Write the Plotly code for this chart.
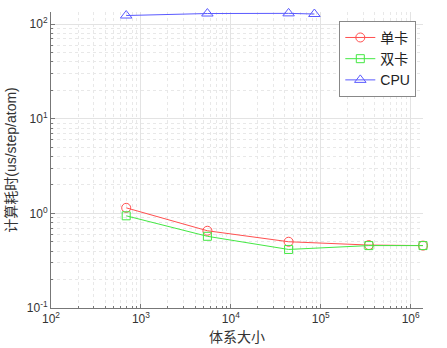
import math
import plotly.graph_objects as go

# data
sizes = [686, 5488, 43904, 343000, 1372000]
single_card = [1.146, 0.656, 0.502, 0.463, 0.457]
dual_card = [0.944, 0.573, 0.416, 0.457, 0.457]
cpu_sizes = [686, 5488, 43904, 85000]
cpu_vals = [123.8, 130.0, 130.5, 128.5]

x_tickvals = [1e2, 1e3, 1e4, 1e5, 1e6]
x_ticktext = ["10<sup>2</sup>", "10<sup>3</sup>", "10<sup>4</sup>", "10<sup>5</sup>", "10<sup>6</sup>"]
y_tickvals = [1e-1, 1e0, 1e1, 1e2]
y_ticktext = ["10<sup>-1</sup>", "10<sup>0</sup>", "10<sup>1</sup>", "10<sup>2</sup>"]

FONT = "Liberation Sans, Arial, Noto Sans CJK SC, sans-serif"

fig = go.Figure()
fig.add_trace(go.Scatter(x=sizes, y=single_card, name="单卡", mode="lines+markers",
                         line=dict(color="#ff5050", width=1),
                         marker=dict(symbol="circle-open", size=9, color="#ff5050", line=dict(width=1)),
                         cliponaxis=False))
fig.add_trace(go.Scatter(x=sizes, y=dual_card, name="双卡", mode="lines+markers",
                         line=dict(color="#44e844", width=1),
                         marker=dict(symbol="square-open", size=8, color="#44e844", line=dict(width=1)),
                         cliponaxis=False))
fig.add_trace(go.Scatter(x=cpu_sizes, y=cpu_vals, name="CPU", mode="lines+markers",
                         line=dict(color="#5a5aff", width=1),
                         marker=dict(symbol="triangle-up-open", size=10, color="#5a5aff", line=dict(width=1)),
                         cliponaxis=False))

axis_common = dict(
    type="log",
    automargin=False,
    showline=True, linecolor="#777777", linewidth=1,
    ticks="inside", ticklen=4, tickcolor="#777777",
    showgrid=True, gridcolor="#e3e3e3", gridwidth=1,
    zeroline=False,
    tickfont=dict(family=FONT, size=12, color="#333333"),
    minor=dict(dtick="D1", ticks="inside", ticklen=2, tickcolor="#777777",
               showgrid=True, gridcolor="#e8e8e8", griddash="dot", gridwidth=1),
)

fig.update_xaxes(**axis_common, tickmode="array", tickvals=x_tickvals, ticktext=x_ticktext,
                 range=[2, math.log10(1372000)],
                 title=dict(text="体系大小", font=dict(family=FONT, size=14, color="#333333"), standoff=6))
fig.update_yaxes(**axis_common, tickmode="array", tickvals=y_tickvals, ticktext=y_ticktext,
                 range=[-1, 2.13],
                 title=dict(text="计算耗时(us/step/atom)", font=dict(family=FONT, size=14, color="#333333"), standoff=6))

fig.update_layout(
    width=447, height=348,
    margin=dict(l=51, r=24, t=12, b=40),
    paper_bgcolor="white", plot_bgcolor="white",
    font=dict(family=FONT, size=14, color="#222222"),
    showlegend=True,
    legend=dict(x=0.775, y=0.97, xanchor="left", yanchor="top",
                bgcolor="white", bordercolor="#888888", borderwidth=1,
                font=dict(family=FONT, size=14, color="#222222"),
                tracegroupgap=0, itemwidth=30),
)

fig.write_html("out.html")
